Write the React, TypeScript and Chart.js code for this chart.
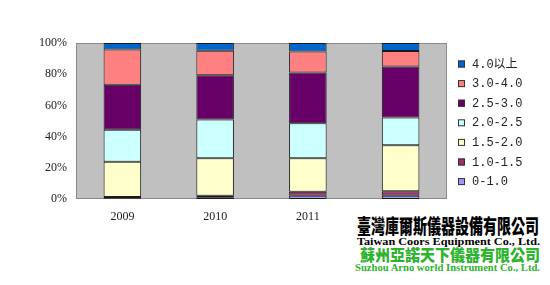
import React, { useEffect, useRef } from 'react';
import { Chart, registerables } from 'chart.js';

Chart.register(...registerables);

const categories = ['2009', '2010', '2011', '2012'];
const seriesLabels = ['0-1.0', '1.0-1.5', '1.5-2.0', '2.0-2.5', '2.5-3.0', '3.0-4.0', '4.0以上'];
const seriesColors = ['#9999FF', '#993366', '#FFFFCC', '#CCFFFF', '#660066', '#FF8080', '#0066CC'];
const s0to10 = [0.5, 0.8, 2.1, 2.1];
const s10to15 = [0.8, 1.3, 2.6, 2.8];
const s15to20 = [22.5, 24.0, 21.5, 29.6];
const s20to25 = [20.6, 24.9, 22.3, 17.8];
const s25to30 = [28.8, 28.3, 32.6, 32.6];
const s30to40 = [22.7, 15.7, 13.5, 9.9];
const s40up = [4.1, 5.0, 5.4, 5.2];
const yTicks = [0, 20, 40, 60, 80, 100];

const seriesValues = [s0to10, s10to15, s15to20, s20to25, s25to30, s30to40, s40up];

const plotBg = {
  id: 'plotBg',
  beforeDraw(chart: any) {
    const { ctx, chartArea: a } = chart;
    ctx.save();
    ctx.fillStyle = '#C0C0C0';
    ctx.fillRect(a.left, a.top, a.width, a.height);
    ctx.strokeStyle = '#8a8a8a';
    ctx.lineWidth = 1;
    ctx.strokeRect(a.left + 0.5, a.top + 0.5, a.width - 1, a.height - 1);
    ctx.restore();
  },
};

const sideLegend = {
  id: 'sideLegend',
  afterDraw(chart: any) {
    const { ctx, chartArea: a } = chart;
    const ds = chart.data.datasets;
    const x = a.right + 11;
    const rowH = 19.6;
    const firstY = 64;
    ctx.save();
    ctx.font = '12px "Liberation Mono", "Noto Sans CJK SC", monospace';
    ctx.textBaseline = 'middle';
    ctx.textAlign = 'left';
    for (let k = 0; k < ds.length; k++) {
      const d = ds[ds.length - 1 - k];
      const cy = firstY + k * rowH;
      ctx.fillStyle = d.backgroundColor;
      ctx.fillRect(x, cy - 3.5, 7, 7);
      ctx.strokeStyle = '#333';
      ctx.lineWidth = 1;
      ctx.strokeRect(x + 0.5, cy - 3.5 + 0.5, 6, 6);
      ctx.fillStyle = '#222';
      ctx.fillText(d.label, x + 14, cy + 0.5);
    }
    ctx.restore();
  },
};

export default function App() {
  const ref = useRef<HTMLCanvasElement | null>(null);

  useEffect(() => {
    if (!ref.current) return;
    const chart = new Chart(ref.current, {
      type: 'bar',
      data: {
        labels: categories,
        datasets: seriesValues.map((vals, i) => ({
          label: seriesLabels[i],
          data: vals,
          backgroundColor: seriesColors[i],
          borderColor: '#1a1a1a',
          borderWidth: 1,
          borderSkipped: false,
          categoryPercentage: 1,
          barPercentage: 0.405,
        })),
      },
      options: {
        animation: false,
        responsive: false,
        maintainAspectRatio: false,
        layout: { padding: { top: 43, left: 0, right: 103, bottom: 0 } },
        plugins: {
          legend: { display: false },
          tooltip: { enabled: false },
        },
        scales: {
          x: {
            stacked: true,
            grid: { display: false, drawTicks: false },
            border: { display: false },
            ticks: {
              padding: 11,
              color: '#222',
              font: { family: '"Liberation Serif", serif', size: 12 },
            },
            afterFit(s: any) {
              s.height = 86;
            },
          },
          y: {
            stacked: true,
            min: 0,
            max: 100,
            afterBuildTicks(s: any) {
              s.ticks = yTicks.map((v) => ({ value: v }));
            },
            grid: { display: false, drawTicks: false },
            border: { display: false },
            ticks: {
              padding: 9,
              color: '#222',
              font: { family: '"Liberation Serif", serif', size: 12 },
              callback: (v: any) => v + '%',
            },
            afterFit(s: any) {
              s.width = 76;
            },
          },
        },
      },
      plugins: [plotBg, sideLegend],
    });
    return () => chart.destroy();
  }, []);

  return (
    <div style={{ position: 'fixed', left: 0, top: 0, width: 550, height: 285, background: '#fff' }}>
      <canvas ref={ref} width={550} height={285} style={{ position: 'absolute', left: 0, top: 0 }} />
      <svg
        width={550}
        height={285}
        style={{ position: 'absolute', left: 0, top: 0, pointerEvents: 'none' }}
      >
        <rect x={352} y={208} width={193} height={70} fill="#fff" />
        <text
          x={357}
          y={234}
          textLength={182}
          lengthAdjust="spacingAndGlyphs"
          fontFamily='"Noto Sans CJK TC", sans-serif'
          fontWeight={900}
          fontSize={20}
          fill="#000"
        >
          臺灣庫爾斯儀器設備有限公司
        </text>
        <text
          x={357}
          y={244.5}
          textLength={183}
          lengthAdjust="spacingAndGlyphs"
          fontFamily='"Liberation Serif", serif'
          fontWeight={700}
          fontSize={10.5}
          fill="#000"
        >
          Taiwan Coors Equipment Co., Ltd.
        </text>
        <text
          x={360}
          y={260.5}
          textLength={180}
          lengthAdjust="spacingAndGlyphs"
          fontFamily='"Noto Sans CJK TC", sans-serif'
          fontWeight={900}
          fontSize={16}
          fill="#2DB32D"
        >
          蘇州亞諾天下儀器有限公司
        </text>
        <text
          x={355}
          y={270.5}
          textLength={185}
          lengthAdjust="spacingAndGlyphs"
          fontFamily='"Liberation Serif", serif'
          fontWeight={700}
          fontSize={10.5}
          fill="#2DB32D"
        >
          Suzhou Arno world Instrument Co., Ltd.
        </text>
      </svg>
    </div>
  );
}
